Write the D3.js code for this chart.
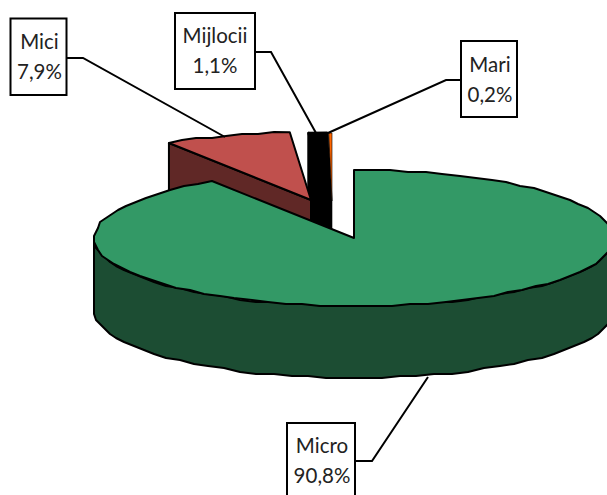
<!DOCTYPE html>
<html><head><meta charset="utf-8">
<script src="https://cdnjs.cloudflare.com/ajax/libs/d3/7.8.5/d3.min.js"></script>
<style>html,body{margin:0;background:#fff;overflow:hidden}svg{display:block}</style>
</head><body><svg id="c" width="607" height="495"></svg>
<script>
const categories = ["Micro","Mici","Mijlocii","Mari"];
const values = [90.8,7.9,1.1,0.2];
const labels = ["90,8%","7,9%","1,1%","0,2%"];
const topColors = ["#339966","#c0504d","#000000","#ff6600"];
const wallColors = ["#1c4d33","#602826","#000000","#000000"];

const rx = 260, ry = 68, depth = 72, snapGrid = 2;
const apexes = [[354,238],[311,200],[330,201],[332,201]];
const strokes = [2,2,3,0.6];
const boxes = [[287,423,68,75],[10.5,18.5,56,76.5],[175,13,80,76],[461,41,56,76]];
const textCx = [322,39.5,215,490];
const textBase = [[453,483],[49,79],[43,73],[72,102]];
const leaders = [[[355,461],[372,461],[428,377]],[[67,58],[83,58],[225,137]],[[255,52],[271,52],[316,133]],[[461,80],[446,80],[328,133]]];

const arcs = d3.pie().sort(null).value(d=>d)(values);
const sx = d3.scaleLinear().domain([-1,1]).range([-rx,rx]);
const sy = d3.scaleLinear().domain([-1,1]).range([-ry,ry]);
const snap = v => Math.round(v/snapGrid)*snapGrid;
const pt = (i,a,dz=0,rough=true)=>{
  const x = apexes[i][0]+sx(Math.sin(a)), y = apexes[i][1]-sy(Math.cos(a))+dz;
  return rough ? [snap(x),snap(y)] : [x,y];
};
function rim(i,a0,a1,dz=0){
  const n = Math.max(1,Math.ceil((a1-a0)/(Math.PI/45)));
  return d3.range(n+1).map(k=>pt(i,a0+(a1-a0)*k/n,dz,k>0&&k<n));
}
const line = d3.line();
const svg = d3.select("#c");
const sl = (d,fill,w=2)=>svg.append("path").attr("d",d).attr("fill",fill).attr("stroke","#000").attr("stroke-width",w).attr("stroke-linejoin","round");

// back to front: Mijlocii, Mari, Mici, Micro
[2,3,1].forEach(i=>{
  const {startAngle:a0,endAngle:a1}=arcs[i];
  const A=apexes[i], p0=pt(i,a0,0,false);
  sl(line([A,p0,[p0[0],p0[1]+depth],[A[0],A[1]+depth]])+"Z",wallColors[i],strokes[i]);
  sl(line([A,...rim(i,a0,a1)])+"Z",topColors[i],strokes[i]);
});
{
  const {startAngle:a0,endAngle:a1}=arcs[0];
  const A=apexes[0];
  const wallTop=rim(0,Math.PI/2,Math.PI*1.5), wallBot=rim(0,Math.PI/2,Math.PI*1.5,depth).reverse();
  sl(line([...wallTop,...wallBot])+"Z",wallColors[0]);
  sl(line([A,...rim(0,a0,a1)])+"Z",topColors[0]);
}
leaders.forEach(l=>svg.append("path").attr("d",line(l)).attr("fill","none").attr("stroke","#000").attr("stroke-width",2));
categories.forEach((c,i)=>{
  const b=boxes[i];
  svg.append("rect").attr("x",b[0]).attr("y",b[1]).attr("width",b[2]).attr("height",b[3]).attr("fill","#fff").attr("stroke","#000").attr("stroke-width",2);
  [c,labels[i]].forEach((t,j)=>svg.append("text").attr("x",textCx[i]).attr("y",textBase[i][j]).attr("text-anchor","middle")
    .attr("font-family","Lato").attr("font-size",20.5).attr("fill","#222").text(t));
});
</script></body></html>
